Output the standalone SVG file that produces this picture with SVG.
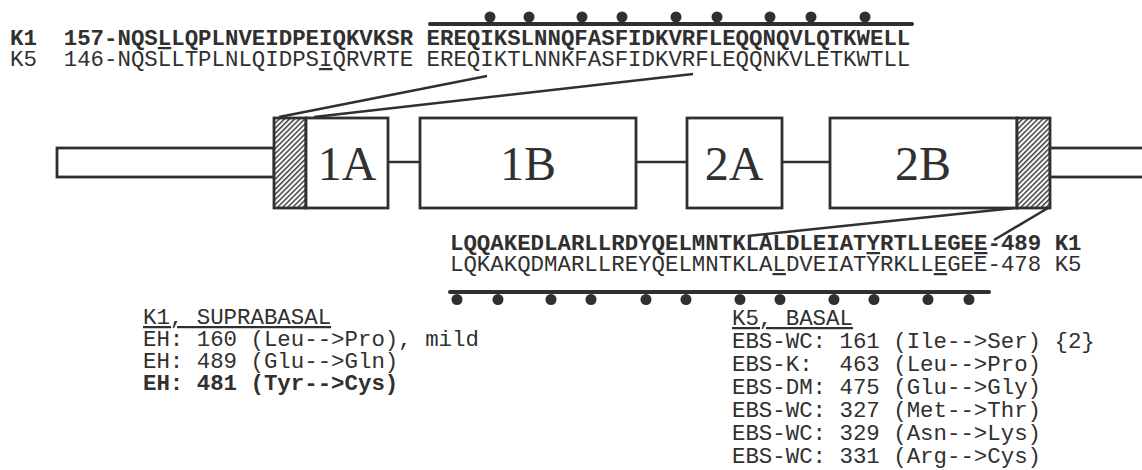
<svg xmlns="http://www.w3.org/2000/svg" width="1142" height="470" viewBox="0 0 1142 470" xml:space="preserve">
<defs>
<style>
.seq{font-family:"Liberation Mono","Courier New",monospace;font-size:22.4px;fill:#303030;white-space:pre}
.b{font-weight:bold}
.u{text-decoration:underline}
.lbl{font-family:"Liberation Serif","Times New Roman",serif;font-size:48px;fill:#303030;text-anchor:middle}
.box{fill:#fff;stroke:#303030;stroke-width:2.8}
.hb{fill:url(#hatch);stroke:#303030;stroke-width:2.8}
.ln{stroke:#303030;stroke-width:2.5;fill:none}
.bar{stroke:#303030;stroke-width:4;stroke-linecap:round}
.dot{fill:#303030}
</style>
<pattern id="hatch" patternUnits="userSpaceOnUse" width="3.6" height="3.6" patternTransform="rotate(45)">
<rect width="3.6" height="3.6" fill="#fff"/>
<line x1="0.8" y1="0" x2="0.8" y2="3.6" stroke="#303030" stroke-width="1.4"/>
</pattern>
</defs>
<rect width="1142" height="470" fill="#fff"/>

<g id="connectors">
<line class="ln" x1="279" y1="117" x2="487" y2="76"/>
<line class="ln" x1="314" y1="117" x2="693" y2="74"/>
<line class="ln" x1="388" y1="162" x2="420" y2="162"/>
<line class="ln" x1="636" y1="162" x2="687" y2="162"/>
<line class="ln" x1="782" y1="162" x2="830" y2="162"/>
<line class="ln" x1="1015" y1="208" x2="748" y2="236"/>
<line class="ln" x1="1048" y1="208" x2="994" y2="240"/>
</g>

<g id="top-sequence">
<line class="bar" x1="430" y1="24" x2="912" y2="24"/>
<g class="dot">
<circle cx="490" cy="17" r="5.5"/><circle cx="529" cy="17" r="5.5"/><circle cx="582" cy="17" r="5.5"/>
<circle cx="622" cy="17" r="5.5"/><circle cx="676" cy="17" r="5.5"/><circle cx="717" cy="17" r="5.5"/>
<circle cx="770" cy="17" r="5.5"/><circle cx="811" cy="17" r="5.5"/><circle cx="865" cy="17" r="5.5"/>
</g>
<text class="seq b" x="10" y="45">K1  157-NQS<tspan class="u">L</tspan>LQPLNVEIDPEIQKVKSR EREQIKSLNNQFASFIDKVRFLEQQNQVLQTKWELL</text>
<text class="seq" x="10" y="66">K5  146-NQSLLTPLNLQIDPS<tspan class="u">I</tspan>QRVRTE EREQIKTLNNKFASFIDKVRFLEQQNKVLETKWTLL</text>
</g>

<g id="tail-left"><rect class="box" x="57" y="148" width="217" height="29"/></g>
<g id="hatch-left"><rect class="hb" x="274" y="118" width="32" height="90"/></g>
<g id="box-1A"><rect class="box" x="306" y="118" width="82" height="90"/><text class="lbl" x="347" y="180">1A</text></g>
<g id="box-1B"><rect class="box" x="420" y="118" width="216" height="90"/><text class="lbl" x="528" y="180">1B</text></g>
<g id="box-2A"><rect class="box" x="687" y="118" width="95" height="90"/><text class="lbl" x="734" y="180">2A</text></g>
<g id="box-2B"><rect class="box" x="830" y="118" width="187" height="90"/><text class="lbl" x="923" y="180">2B</text></g>
<g id="hatch-right"><rect class="hb" x="1017" y="118" width="33" height="90"/></g>
<g id="tail-right"><rect class="box" x="1050" y="148" width="100" height="29"/></g>

<g id="bottom-sequence">
<text class="seq b" x="450" y="250">LQQAKEDLARLLRDYQELMNTKLALDLEIAT<tspan class="u">Y</tspan>RTLLEGE<tspan class="u">E</tspan>-489 K1</text>
<text class="seq" x="450" y="271">LQKAKQDMARLLREYQELMNTKLA<tspan class="u">L</tspan>DVEIATYRKLL<tspan class="u">E</tspan>GEE-478 K5</text>
<line class="bar" x1="450" y1="292" x2="989" y2="292"/>
<g class="dot">
<circle cx="457" cy="299.5" r="5.5"/><circle cx="498" cy="299.5" r="5.5"/><circle cx="551" cy="299.5" r="5.5"/>
<circle cx="591" cy="299.5" r="5.5"/><circle cx="646" cy="299.5" r="5.5"/><circle cx="686" cy="299.5" r="5.5"/>
<circle cx="740" cy="299.5" r="5.5"/><circle cx="780" cy="299.5" r="5.5"/><circle cx="834" cy="299.5" r="5.5"/>
<circle cx="874" cy="299.5" r="5.5"/><circle cx="928" cy="299.5" r="5.5"/><circle cx="969" cy="299.5" r="5.5"/>
</g>
</g>

<g id="list-K1">
<text class="seq u" x="143" y="324">K1, SUPRABASAL</text>
<text class="seq" x="143" y="346">EH: 160 (Leu-->Pro), mild</text>
<text class="seq" x="143" y="368">EH: 489 (Glu-->Gln)</text>
<text class="seq b" x="143" y="390">EH: 481 (Tyr-->Cys)</text>
</g>

<g id="list-K5">
<text class="seq u" x="732" y="325">K5, BASAL</text>
<text class="seq" x="732" y="348">EBS-WC: 161 (Ile-->Ser) {2}</text>
<text class="seq" x="732" y="371">EBS-K:  463 (Leu-->Pro)</text>
<text class="seq" x="732" y="394">EBS-DM: 475 (Glu-->Gly)</text>
<text class="seq" x="732" y="417">EBS-WC: 327 (Met-->Thr)</text>
<text class="seq" x="732" y="440">EBS-WC: 329 (Asn-->Lys)</text>
<text class="seq" x="732" y="463">EBS-WC: 331 (Arg-->Cys)</text>
</g>
</svg>
